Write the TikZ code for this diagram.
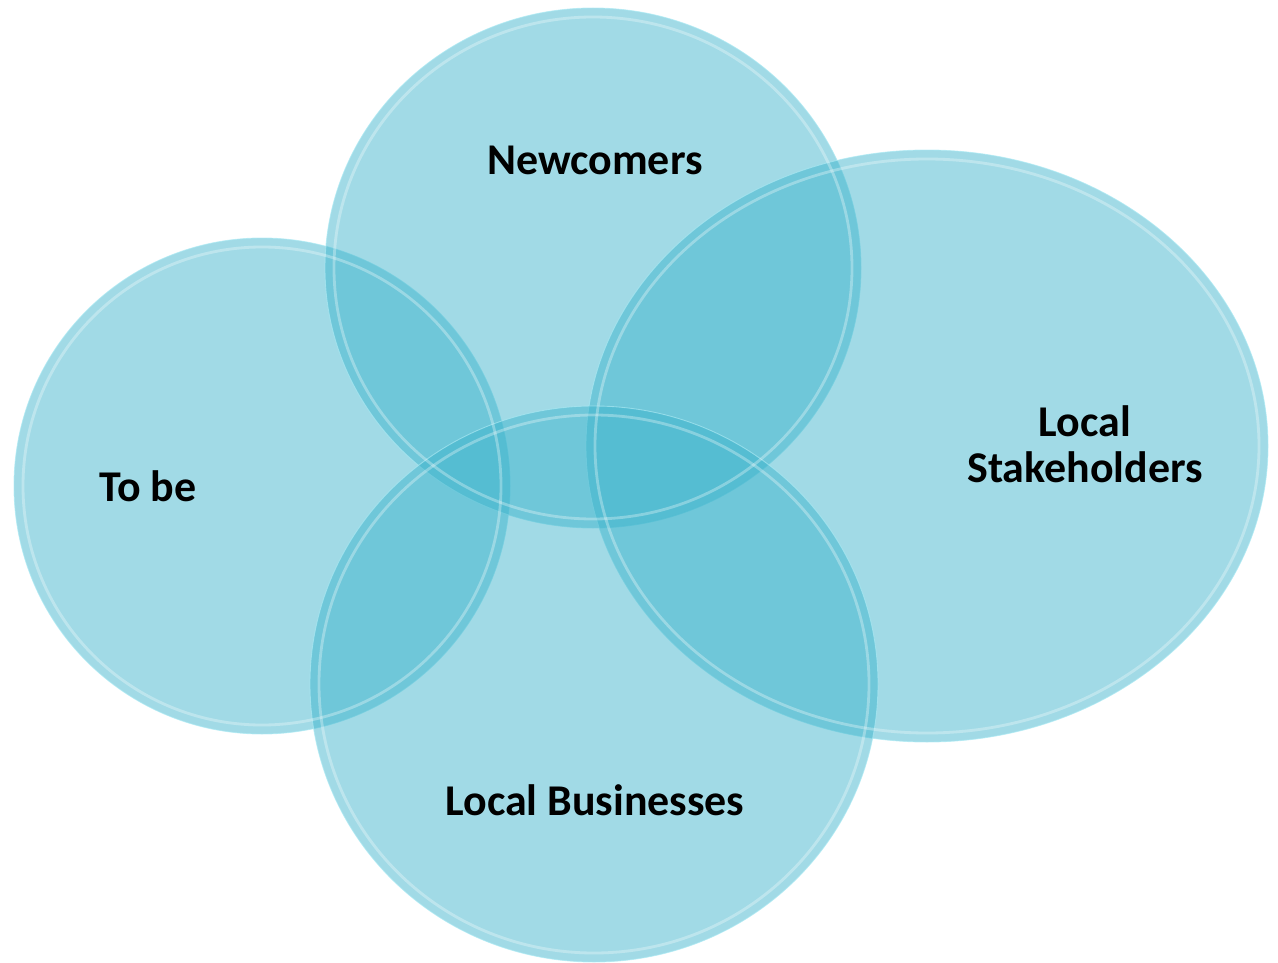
\documentclass[tikz,border=0pt]{standalone}
\usepackage{fontspec}
\setmainfont{Carlito}
\usetikzlibrary{positioning}

\definecolor{venncyan}{RGB}{55,177,202}
\definecolor{rimcyan}{RGB}{170,232,242}

\begin{document}
\begin{tikzpicture}[
        x=0.02cm, y=-0.02cm,
        bubble/.style={fill=venncyan, fill opacity=0.47, draw=rimcyan, draw opacity=0.7, line width=0.5pt},
        gloss/.style={draw=white, draw opacity=0.3, line width=1.6pt},
        label/.style={font=\fontsize{25}{26}\selectfont\bfseries, text=black, align=center}
    ]
    \useasboundingbox (0,0) rectangle (1278,963);

    % Sets
    \path[bubble] (262,486) ellipse [x radius=248, y radius=248];
    \path[bubble] (593,268) ellipse [x radius=268, y radius=260];
    \path[bubble] (927,446) ellipse [x radius=341, y radius=296];
    \path[bubble] (594,684) ellipse [x radius=284, y radius=278];

    % Glossy inner rims
    \path[gloss] (262,486) ellipse [x radius=239, y radius=239];
    \path[gloss] (593,268) ellipse [x radius=259, y radius=251];
    \path[gloss] (927,446) ellipse [x radius=332, y radius=287];
    \path[gloss] (594,684) ellipse [x radius=275, y radius=269];

    % Labels
    \node[label] (tobe) at (148,486) {To be};
    \node[label] (newcomers) at (595,160) {Newcomers};
    \node[label] (stakeholders) at (1085,444) {Local\\Stakeholders};
    \node[label] (businesses) at (595,800) {Local Businesses};

\end{tikzpicture}
\end{document}
